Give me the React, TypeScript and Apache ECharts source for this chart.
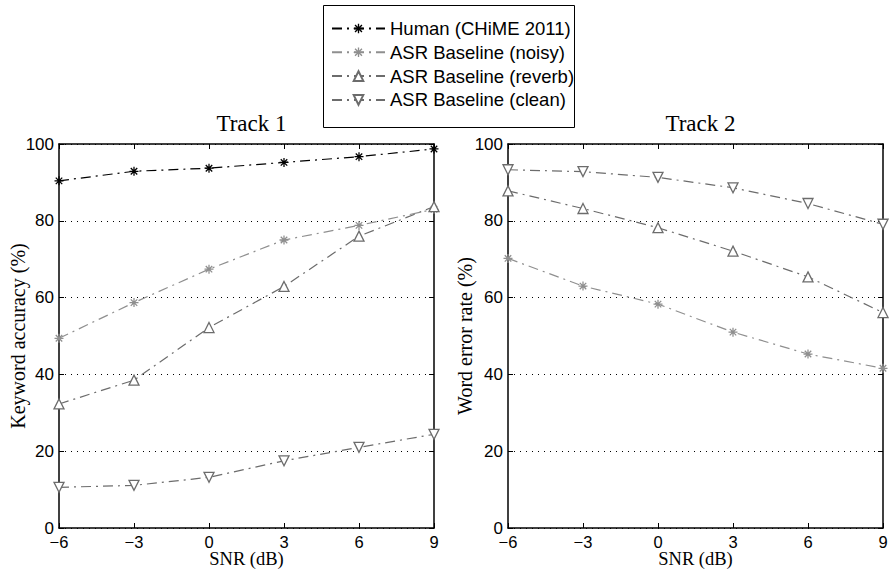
import React, { useEffect, useRef } from "react";
import * as echarts from "echarts";

const snr = [-6, -3, 0, 3, 6, 9];
const seriesNames = ["Human (CHiME 2011)", "ASR Baseline (noisy)", "ASR Baseline (reverb)", "ASR Baseline (clean)"];
const t1Human = [90.4, 92.9, 93.7, 95.2, 96.7, 98.7];
const t1Noisy = [49.4, 58.7, 67.4, 75.0, 78.8, 83.0];
const t1Reverb = [32.3, 38.5, 52.2, 62.9, 76.0, 83.7];
const t1Clean = [10.6, 11.1, 13.2, 17.5, 21.0, 24.4];
const t2Noisy = [70.2, 63.0, 58.3, 51.0, 45.3, 41.6];
const t2Reverb = [87.8, 83.2, 78.2, 72.1, 65.4, 56.1];
const t2Clean = [93.3, 92.8, 91.3, 88.6, 84.5, 79.1];

const SANS = "Liberation Sans, Arial, Helvetica, sans-serif";
const SERIF = "Liberation Serif, Times New Roman, serif";

const asterisk =
  "path://M0 4.3H10V5.7H0Z M4.3 0H5.7V10H4.3Z M0.9 1.9L1.9 0.9L9.1 8.1L8.1 9.1Z M8.1 0.9L9.1 1.9L1.9 9.1L0.9 8.1Z";

const DASH = [10, 5, 2, 5];
const C_HUMAN = "#000000";
const C_NOISY = "#8f8f8f";
const C_REV = "#6c6c6c";
const C_CLEAN = "#6c6c6c";

function pairs(ys: number[]) {
  return snr.map((x, i) => [x, ys[i]]);
}

function makeSeries(name: string, ys: number[], axisIdx: number, color: string, kind: string) {
  const base: any = {
    name,
    type: "line",
    data: pairs(ys),
    xAxisIndex: axisIdx,
    yAxisIndex: axisIdx,
    lineStyle: { color, width: 1.2, type: DASH },
    itemStyle: { color, borderColor: color },
    emphasis: { disabled: true },
  };
  if (kind === "star") {
    base.symbol = asterisk;
    base.symbolSize = 9;
    base.itemStyle = { color, borderWidth: 0 };
  } else {
    base.symbol = "triangle";
    base.symbolSize = 10;
    base.symbolRotate = kind === "down" ? 180 : 0;
    base.itemStyle = { color: "#ffffff", borderColor: color, borderWidth: 1.3 };
  }
  return base;
}

const fmt = (v: number) => (v < 0 ? "\u2212" + Math.abs(v) : String(v));

function xAxes(gridIndex: number) {
  return [
    {
      type: "value",
      gridIndex,
      min: -6,
      max: 9,
      interval: 3,
      position: "bottom",
      name: "SNR (dB)",
      nameLocation: "middle",
      nameGap: 22,
      nameMoveOverlap: false,
      nameTextStyle: { fontFamily: SERIF, fontSize: 18.5, color: "#000", lineHeight: 18 },
      axisLine: { show: true, onZero: false, lineStyle: { color: "#000", width: 1.5 } },
      axisTick: { show: true, inside: true, length: 5, lineStyle: { color: "#000" } },
      axisLabel: { fontFamily: SANS, fontSize: 16.5, color: "#000", margin: 6, lineHeight: 16, formatter: fmt },
      splitLine: { show: false },
    },
    {
      type: "value",
      gridIndex,
      min: -6,
      max: 9,
      interval: 3,
      position: "top",
      axisLine: { show: true, onZero: false, lineStyle: { color: "#000", width: 1.5 } },
      axisTick: { show: true, inside: true, length: 5, lineStyle: { color: "#000" } },
      axisLabel: { show: false },
      splitLine: { show: false },
    },
  ];
}

function yAxes(gridIndex: number, name: string, gap: number) {
  return [
    {
      type: "value",
      gridIndex,
      min: 0,
      max: 100,
      interval: 20,
      position: "left",
      name,
      nameLocation: "middle",
      nameRotate: 90,
      nameGap: gap,
      nameMoveOverlap: false,
      nameTextStyle: { fontFamily: SERIF, fontSize: 20, color: "#000" },
      axisLine: { show: true, onZero: false, lineStyle: { color: "#000", width: 1.5 } },
      axisTick: { show: true, inside: true, length: 5, lineStyle: { color: "#000" } },
      axisLabel: { fontFamily: SANS, fontSize: 17, color: "#000", margin: 5, lineHeight: 16 },
      splitLine: { show: true, lineStyle: { color: "#000", width: 1, type: [1, 5] } },
    },
    {
      type: "value",
      gridIndex,
      min: 0,
      max: 100,
      interval: 20,
      position: "right",
      axisLine: { show: true, onZero: false, lineStyle: { color: "#000", width: 1.5 } },
      axisTick: { show: true, inside: true, length: 5, lineStyle: { color: "#000" } },
      axisLabel: { show: false },
      splitLine: { show: false },
    },
  ];
}

export default function App() {
  const ref = useRef<HTMLDivElement>(null);
  useEffect(() => {
    if (!ref.current) return;
    const chart = echarts.init(ref.current, undefined, { renderer: "svg" });
    const x0 = xAxes(0);
    const x1 = xAxes(1);
    const y0 = yAxes(0, "Keyword accuracy (%)", 31);
    const y1 = yAxes(1, "Word error rate (%)", 33);
    const option: any = {
      animation: false,
      backgroundColor: "#ffffff",
      title: [
        {
          text: "Track 1",
          left: 246.5,
          top: 107,
          textAlign: "center",
          textStyle: { fontFamily: SERIF, fontSize: 23, fontWeight: "normal", color: "#000" },
        },
        {
          text: "Track 2",
          left: 695.5,
          top: 107,
          textAlign: "center",
          textStyle: { fontFamily: SERIF, fontSize: 23, fontWeight: "normal", color: "#000" },
        },
      ],
      grid: [
        { left: 59, top: 144, width: 375, height: 384, containLabel: false, outerBoundsMode: "none" },
        { left: 508, top: 144, width: 375, height: 384, containLabel: false, outerBoundsMode: "none" },
      ],
      xAxis: [x0[0], x0[1], x1[0], x1[1]],
      yAxis: [y0[0], y0[1], y1[0], y1[1]],
      graphic: [
        {
          type: "rect",
          shape: { x: 323.5, y: 5.5, width: 251, height: 122 },
          style: { fill: "#ffffff", stroke: "#000000", lineWidth: 1 },
          z: 5,
          silent: true,
        },
      ],
      legend: {
        orient: "vertical",
        left: 331,
        top: 18,
        z: 10,
        itemWidth: 53,
        itemHeight: 12,
        itemGap: 2.8,
        padding: 0,
        selectedMode: false,
        textStyle: { fontFamily: SANS, fontSize: 18.5, color: "#000", lineHeight: 21 },
        data: seriesNames,
      },
      series: [
        makeSeries(seriesNames[0], t1Human, 0, C_HUMAN, "star"),
        makeSeries(seriesNames[1], t1Noisy, 0, C_NOISY, "star"),
        makeSeries(seriesNames[2], t1Reverb, 0, C_REV, "up"),
        makeSeries(seriesNames[3], t1Clean, 0, C_CLEAN, "down"),
        makeSeries(seriesNames[1], t2Noisy, 2, C_NOISY, "star"),
        makeSeries(seriesNames[2], t2Reverb, 2, C_REV, "up"),
        makeSeries(seriesNames[3], t2Clean, 2, C_CLEAN, "down"),
      ],
    };
    chart.setOption(option);
    return () => chart.dispose();
  }, []);
  return (
    <div
      ref={ref}
      style={{ position: "fixed", left: 0, top: 0, width: 889, height: 569, background: "#fff" }}
    />
  );
}
